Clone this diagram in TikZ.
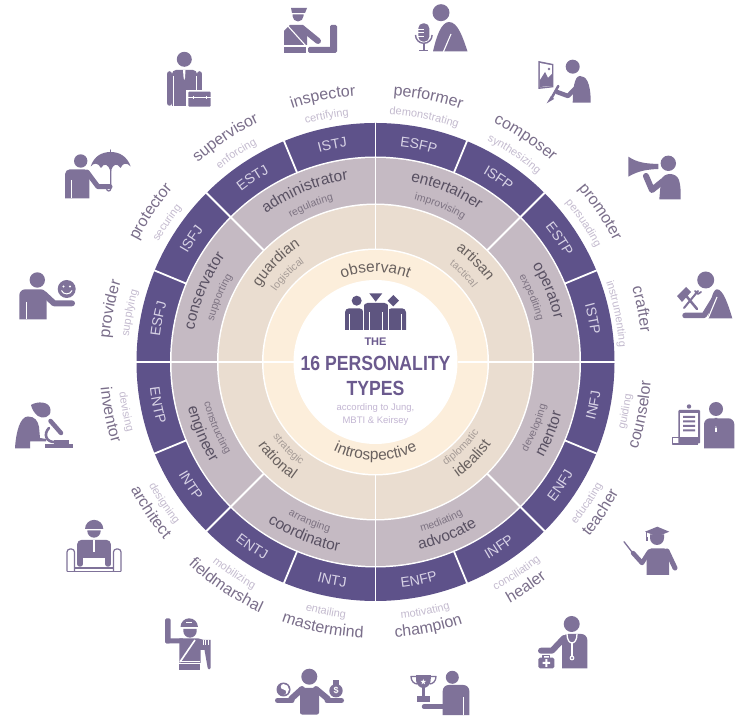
\documentclass[tikz,border=0pt]{standalone}
\usepackage{fontspec}
\setmainfont{Liberation Sans}
\newfontfamily\condf[FakeStretch=0.86]{Liberation Sans}
\usetikzlibrary{decorations.text}
\definecolor{ringP}{RGB}{94,82,138}
\definecolor{ringG}{RGB}{197,186,195}
\definecolor{ringB}{RGB}{234,221,208}
\definecolor{ringC}{RGB}{252,238,219}
\definecolor{ico}{RGB}{127,114,153}
\definecolor{icoD}{RGB}{94,85,128}
\definecolor{lab}{RGB}{122,110,138}
\definecolor{subl}{RGB}{196,187,207}
\definecolor{codeT}{RGB}{216,211,230}
\definecolor{grayL}{RGB}{88,80,98}
\definecolor{grayS}{RGB}{125,115,130}
\definecolor{beigeL}{RGB}{105,97,95}
\definecolor{beigeS}{RGB}{165,155,150}
\definecolor{title}{RGB}{107,90,142}
\definecolor{accT}{RGB}{195,182,211}
\tikzset{
  divider/.style={white,line width=1.8pt},
  slit/.style={white,line width=1.1pt},
  limb/.style={ico,line cap=round,line join=round},
  thin outline/.style={ico,line width=1.4pt,line join=round},
}
\newcommand\UpT[5]{\path[decorate,decoration={text along path,text color=#4,text={|\fontsize{#3}{#3}\selectfont|#5},text align=center}] ({#1+50}:#2) arc[start angle={#1+50},end angle={#1-50},radius=#2];}
\newcommand\DnT[5]{\path[decorate,decoration={text along path,text color=#4,text={|\fontsize{#3}{#3}\selectfont|#5},text align=center}] ({#1-50}:#2) arc[start angle={#1-50},end angle={#1+50},radius=#2];}
\newcommand\Head[3]{\fill (#1,#2) circle (#3);}
\newcommand\Torso[5]{\fill (#1,#4) [rounded corners=#5] -- (#1,#2) -- (#3,#2) [sharp corners] -- (#3,#4) -- cycle;}
\begin{document}
\begin{tikzpicture}[x=1pt,y=1pt]
\useasboundingbox (0,0) rectangle (741,717);
\fill[white] (0,0) rectangle (741,717);
% rings
\begin{scope}[shift={(375.5,355)}]
\fill[ringP] (0,0) circle (239);
\fill[white] (0,0) circle (205.5);
\fill[ringG] (0,0) circle (204);
\fill[white] (0,0) circle (158.5);
\fill[ringB] (0,0) circle (157);
\fill[white] (0,0) circle (113.5);
\fill[ringC] (0,0) circle (112);
\fill[white] (0,0) circle (82);
\foreach \a in {0,22.5,...,337.5} \draw[divider] (\a:204.5) -- (\a:239.5);
\foreach \a in {0,45,...,315} \draw[divider] (\a:158) -- (\a:205);
\foreach \a in {0,90,180,270} \draw[divider] (\a:112.5) -- (\a:158);
\foreach \a in {0,180} \draw[divider] (\a:82) -- (\a:113);
% outer codes
\UpT{101.25}{217}{14}{codeT}{ISTJ}
\UpT{78.75}{217}{14}{codeT}{ESFP}
\UpT{56.25}{217}{14}{codeT}{ISFP}
\UpT{33.75}{217}{14}{codeT}{ESTP}
\UpT{11.25}{217}{14}{codeT}{ISTP}
\UpT{123.75}{217}{14}{codeT}{ESTJ}
\UpT{146.25}{217}{14}{codeT}{ISFJ}
\UpT{168.75}{217}{14}{codeT}{ESFJ}
\DnT{-11.25}{227}{14}{codeT}{INFJ}
\DnT{-33.75}{227}{14}{codeT}{ENFJ}
\DnT{-56.25}{227}{14}{codeT}{INFP}
\DnT{-78.75}{227}{14}{codeT}{ENFP}
\DnT{-101.25}{227}{14}{codeT}{INTJ}
\DnT{-123.75}{227}{14}{codeT}{ENTJ}
\DnT{-146.25}{227}{14}{codeT}{INTP}
\DnT{-168.75}{227}{14}{codeT}{ENTP}
% roles
\UpT{101.25}{267}{16}{lab}{inspector}\UpT{101.25}{248}{11}{subl}{certifying}
\UpT{78.75}{267}{16}{lab}{performer}\UpT{78.75}{248}{11}{subl}{demonstrating}
\UpT{56.25}{267}{16}{lab}{composer}\UpT{56.25}{248}{11}{subl}{synthesizing}
\UpT{33.75}{267}{16}{lab}{promoter}\UpT{33.75}{248}{11}{subl}{persuading}
\UpT{11.25}{267}{16}{lab}{crafter}\UpT{11.25}{244}{11}{subl}{instrumenting}
\UpT{123.75}{267}{16}{lab}{supervisor}\UpT{123.75}{248}{11}{subl}{enforcing}
\UpT{146.25}{267}{16}{lab}{protector}\UpT{146.25}{248}{11}{subl}{securing}
\UpT{168.75}{267}{16}{lab}{provider}\UpT{168.75}{248}{11}{subl}{supplying}
\DnT{-11.25}{276}{16}{lab}{counselor}\DnT{-11.25}{258}{11}{subl}{guiding}
\DnT{-33.75}{276}{16}{lab}{teacher}\DnT{-33.75}{258}{11}{subl}{educating}
\DnT{-56.25}{276}{16}{lab}{healer}\DnT{-56.25}{258}{11}{subl}{conciliating}
\DnT{-78.75}{276}{16}{lab}{champion}\DnT{-78.75}{258}{11}{subl}{motivating}
\DnT{-101.25}{276}{16}{lab}{mastermind}\DnT{-101.25}{258}{11}{subl}{entailing}
\DnT{-123.75}{276}{16}{lab}{fieldmarshal}\DnT{-123.75}{258}{11}{subl}{mobilizing}
\DnT{-146.25}{276}{16}{lab}{architect}\DnT{-146.25}{258}{11}{subl}{designing}
\DnT{-168.75}{276}{16}{lab}{inventor}\DnT{-168.75}{258}{11}{subl}{devising}
% gray ring
\UpT{112.5}{184}{15.5}{grayL}{administrator}\UpT{112.5}{167}{10.5}{grayS}{regulating}
\UpT{67.5}{184}{15.5}{grayL}{entertainer}\UpT{67.5}{167}{10.5}{grayS}{improvising}
\UpT{22.5}{184}{15.5}{grayL}{operator}\UpT{22.5}{167}{10.5}{grayS}{expediting}
\UpT{157.5}{184}{15.5}{grayL}{conservator}\UpT{157.5}{167}{10.5}{grayS}{supporting}
\DnT{-22.5}{193}{15.5}{grayL}{mentor}\DnT{-22.5}{176}{10.5}{grayS}{developing}
\DnT{-67.5}{193}{15.5}{grayL}{advocate}\DnT{-67.5}{176}{10.5}{grayS}{mediating}
\DnT{-112.5}{193}{15.5}{grayL}{coordinator}\DnT{-112.5}{176}{10.5}{grayS}{arranging}
\DnT{-157.5}{193}{15.5}{grayL}{engineer}\DnT{-157.5}{176}{10.5}{grayS}{constructing}
% beige ring
\UpT{135}{138}{15}{beigeL}{guardian}\UpT{135}{122}{10.5}{beigeS}{logistical}
\UpT{45}{138}{15}{beigeL}{artisan}\UpT{45}{122}{10.5}{beigeS}{tactical}
\DnT{-135}{144}{15}{beigeL}{rational}\DnT{-135}{127}{10.5}{beigeS}{strategic}
\DnT{-45}{142}{15}{beigeL}{idealist}\DnT{-45}{125}{10.5}{beigeS}{diplomatic}
% cream ring
\UpT{90}{90}{15.5}{beigeL}{observant}
\DnT{-90}{98}{15.5}{beigeL}{introspective}
\end{scope}
% centre text
\begin{scope}[shift={(0,717)},yscale=-1]
\node[text=title,font=\bfseries\fontsize{11}{11}\selectfont] (tThe) at (375.5,342) {THE};
\node[text=title,font=\condf\bfseries\fontsize{20.5}{20.5}\selectfont] (tSixteen) at (375.5,363) {16 PERSONALITY};
\node[text=title,font=\condf\bfseries\fontsize{20.5}{20.5}\selectfont] (tTypes) at (375.5,388) {TYPES};
\node[text=accT,font=\fontsize{9.5}{9.5}\selectfont] (tAcc) at (375.5,408.5) {according to Jung,};
\node[text=accT,font=\fontsize{9.5}{9.5}\selectfont] (tMbti) at (375.5,421.5) {MBTI \& Keirsey};
% centre icon
\begin{scope}[icoD]
\fill[icoD] (356.7,300.7) circle (5);
\fill[icoD] (369.3,293.3)--(382.3,293.3)--(375.7,301.7)--cycle;
\fill[icoD] (393.3,295)--(399,300.7)--(393.3,306.4)--(387.6,300.7)--cycle;
\Torso{345}{308.3}{363.3}{330}{4}
\Torso{387.5}{308.3}{406}{330}{4}
\Torso{363.5}{303}{388.5}{330}{4}
\draw[white,line width=1pt] (363.4,304)--(363.4,330) (388.4,304)--(388.4,330);
\draw[white,line width=1pt] (349.5,314)--(349.5,330) (369,312)--(369,330) (382.5,312)--(382.5,330) (401.5,314)--(401.5,330);
\end{scope}
% ---------- icons ----------
\begin{scope}[ico]
\tikzset{every path/.append style={ico}}
% inspector
\fill (291,8)--(307,8)--(305,13)--(292,13)--cycle;
\fill (292.5,14.5)--(303.5,14.5)--(303.5,16) arc[start angle=0,end angle=180,radius=5.5]--cycle;
\fill (284,45)--(284,31)--(290,25)--(303,25)--(307,30)--(307,45)--cycle;
\draw[limb,line width=6pt] (302,28)--(318,41);
\draw[slit] (287,25)--(306,46);
\fill (284,47) rectangle (306,53);
\fill[rounded corners=1.5] (330,25) rectangle (337,50);
\fill[rounded corners=1.5] (308,47) rectangle (337,53);
% performer
\Head{441}{12.7}{8.5}
\fill (433,51.5) .. controls (436,38) and (441,22) .. (449,22) .. controls (458,22) and (463,38) .. (467.5,51.5) -- cycle;
\draw[slit] (443.3,52)--(451,34);
\fill[rounded corners=5] (418.3,23.3) rectangle (429.3,41.7);
\draw[white,line width=.8pt] (418,29)--(424,29) (418,32.5)--(424,32.5) (418,36)--(424,36);
\draw[thin outline] (415.5,35) arc[start angle=180,end angle=0,radius=8.3];
\draw[thin outline] (423.8,43.3)--(423.8,50.7) (419,50.7)--(428.3,50.7);
% composer
\Head{572.7}{66.7}{7}
\fill (572.7,102.7) .. controls (573,90) and (574,76) .. (580,76) .. controls (586,76) and (590.7,82) .. (590.7,102.7) -- cycle;
\draw[limb,line width=4.5pt] (576.7,87)--(568,96)--(557,92);
\draw[limb,line width=2.5pt] (558.3,86)--(551,99);
\fill (551,96)--(554,99)--(546.7,103.3)--cycle;
\fill (538.3,61)--(553.3,64)--(553.3,87.3)--(538.3,89)--cycle;
\fill[white] (539.8,63)--(551.8,65.3)--(551.8,86)--(539.8,87.3)--cycle;
\fill (540,87)--(540,80)--(545,72)--(548,78)--(551.8,74)--(551.8,85.8)--cycle;
\fill (549,69) circle (1.3);
% promoter
\Head{668.3}{163.3}{7.7}
\fill (659.3,199.3)--(661,180) .. controls (664,172) and (676,172) .. (679,180) .. controls (681,187) and (680.7,193) .. (680.7,199.3) -- cycle;
\draw[limb,line width=6pt] (663,181)--(652,190)--(646,176);
\fill (628.3,156.7) .. controls (638,163) and (646,163.5) .. (658.3,164) -- (658.3,169) .. controls (646,169.5) and (638,171) .. (628.3,176.7) -- cycle;
% crafter
\Head{705.7}{280}{8.5}
\fill (708,318.3) .. controls (710,305) and (712,289.3) .. (717,289.3) .. controls (723,289.3) and (728,304) .. (732.3,318.3) -- cycle;
\draw[limb,line width=5.5pt] (716,296)--(704,315.5)--(685,315.5);
\draw[slit] (717,297)--(708,318.5);
\draw[limb,line width=2.5pt] (683,292)--(697,309);
\fill (677,296)--(686,287)--(691,292)--(682,302)--cycle;
\draw[limb,line width=2pt] (698,291)--(684,308);
\draw[limb,line width=1.8pt] (695,291)--(698,294)--(701,292);
% counselor
\Head{716}{409}{7}
\Torso{704}{418.3}{734.3}{448.3}{6}
\draw[slit] (716,418)--(716,432);
\fill (714.6,418)--(717.4,418)--(716.6,428)--(715.4,428)--cycle;
\fill[rounded corners=1] (678.3,410) rectangle (700,443.5);
\fill (689,406.5) circle (2.2);
\fill[white] (680,413) rectangle (698,437);
\fill (683,416) rectangle (695,418) (683,420.5) rectangle (695,422.5) (683,425) rectangle (695,427) (683,429.5) rectangle (695,431.5);
\draw[thin outline,rounded corners=3] (698,444) -- (675.5,444) .. controls (672.5,444) and (672.5,437.5) .. (675.5,437.5) -- (697,437.5);
% teacher
\fill (645,531.7)--(657.3,526.7)--(669.3,531.7)--(657.3,536.5)--cycle;
\draw[limb,line width=1pt] (646.7,531.7)--(646.7,537);
\fill (645.5,537) rectangle (648,541.5);
\fill (650,534.5) -- (664,534.5) -- (664,538) arc[start angle=0,end angle=180,radius=7] -- cycle;
\Torso{646.7}{548.3}{669}{575}{5}
\draw[limb,line width=5pt] (667,551)--(675,568);
\draw[limb,line width=4.5pt] (649,552)--(642,563)--(633,553);
\draw[limb,line width=1.3pt] (632,552)--(624,541.7);
% healer
\Head{571.7}{624}{8}
\Torso{562}{634}{587.3}{668.3}{6}
\draw[limb,line width=6pt] (564,638)--(552,650.7)--(541,650.7);
\draw[white,line width=1.3pt] (567,634) .. controls (567,646) and (577,646) .. (577,634);
\draw[white,line width=1.3pt] (572,643)--(572,656);
\fill[white] (572,658) circle (2.4);
\fill (572,658) circle (1.2);
\fill[rounded corners=1.5] (538.3,657.7) rectangle (554.3,668.3);
\draw[thin outline,line width=1.1pt] (543,657.7)--(543,655.5)--(549.5,655.5)--(549.5,657.7);
\fill[white] (545.3,659.2) rectangle (547.3,666.8) (542.5,662) rectangle (550,664);
% champion
\Head{452.3}{677.3}{6.5}
\Torso{442.7}{685}{469.3}{715}{6}
\draw[slit] (463.5,697)--(463.5,715);
\draw[limb,line width=4.5pt] (444,706.7)--(424,706.7);
\fill (416,675) rectangle (430.7,679);
\fill (416,679) .. controls (416,686) and (421,688) .. (423.3,688) .. controls (426,688) and (430.7,686) .. (430.7,679) -- cycle;
\draw[thin outline,line width=1.3pt] (416,676.5)--(411,676.5) .. controls (411,681) and (414,684) .. (417.5,684);
\draw[thin outline,line width=1.3pt] (431,676.5)--(436,676.5) .. controls (436,681) and (433,684) .. (429.5,684);
\fill (422,687) rectangle (424.7,696);
\fill (416.7,696.5)--(430,696.5)--(430,701.7)--(416.7,701.7)--cycle;
\fill[white] (423.3,679) -- (424,681) -- (426,681) -- (424.4,682.3) -- (425,684.3) -- (423.3,683.1) -- (421.6,684.3) -- (422.2,682.3) -- (420.6,681) -- (422.6,681) -- cycle;
% mastermind
\Head{309.3}{676.7}{8}
\fill[rounded corners=2] (300,688) rectangle (319,714.5);
\draw[limb,line width=6pt] (302,689)--(291,699);
\draw[limb,line width=6pt] (316,689)--(328,699);
\draw[limb,line width=5pt] (277.5,700.5)--(292,700.5);
\draw[limb,line width=5pt] (327,700.5)--(341.5,700.5);
\fill (283.5,689.5) circle (7);
\fill[white] (283.5,684) arc[start angle=-90,end angle=90,radius=5.5] arc[start angle=90,end angle=-90,radius=2.75] arc[start angle=90,end angle=270,radius=2.75] -- cycle;
\fill (336,690.7) circle (6.7);
\fill (332.5,680) rectangle (338.5,685);
\node[text=white,font=\bfseries\fontsize{9}{9}\selectfont,inner sep=0pt] (dollar) at (336,690.7) {\$};
% fieldmarshal
\fill (180.5,627) arc[start angle=180,end angle=360,radius=8.7] -- cycle;
\fill (183.3,629) -- (196.7,629) -- (196.7,631) arc[start angle=0,end angle=180,radius=6.7] -- cycle;
\draw[slit] (186,622.5)--(192,622.5);
\fill[rounded corners=1.5] (165,618.3) rectangle (170.7,643.3);
\fill[rounded corners=1.5] (165,638.5) rectangle (184,643.5);
\fill (179.3,638.3)--(198,638.3)--(204,640)--(210.7,640)--(210.7,668) arc[start angle=0,end angle=180,radius=1.5] -- (204.5,650) -- (200.5,650) -- (200.5,663) -- (179.3,663)-- cycle;
\fill (179.3,664.5) rectangle (200,670);
\draw[white,line width=1.6pt] (180,662)--(195,640);
\draw[white,line width=1.3pt] (180,661.7)--(200,661.7);
\draw[white,line width=.7pt] (203,640)--(203,645.5) (205.5,640)--(205.5,645.5) (208,640)--(208,645.5);
% architect
\fill (85,529) arc[start angle=180,end angle=360,radius=9.15] -- cycle;
\fill (87.3,530.5) -- (100.7,530.5) -- (100.7,531) arc[start angle=0,end angle=180,radius=6.7] -- cycle;
\fill[rounded corners=4] (77.3,540) rectangle (110.7,558);
\fill (83,556) rectangle (105,558);
\draw[limb,line width=5.5pt] (80,545)--(80,564);
\draw[limb,line width=5.5pt] (108,545)--(108,564);
\draw[slit] (94,540)--(94,552);
\draw[thin outline,line width=1.2pt,rounded corners=3] (67,571.5) -- (67,549) -- (74.5,549) -- (74.5,571);
\draw[thin outline,line width=1.2pt,rounded corners=3] (121,571.5) -- (121,549) -- (113.5,549) -- (113.5,571);
\draw[thin outline,line width=1.2pt,rounded corners=1.5] (67,571.5) -- (121,571.5);
\draw[thin outline,line width=1.2pt] (74.5,568)--(113.5,568);
% inventor
\fill (31,405) .. controls (37,401) and (50,401) .. (50.5,410) .. controls (51,418) and (42,419) .. (38,416) .. controls (34,413) and (32,409) .. (31,405) -- cycle;
\fill (15,448.3) .. controls (16,432) and (20,416.5) .. (28,416.5) .. controls (35,416.5) and (38,421) .. (39,427) -- (40,438) -- (46,439) -- (46,441.5) -- (30,441.5) -- (30,448.3) -- cycle;
\draw[limb,line width=2.6pt] (49,428) .. controls (43,434) and (46,443) .. (56,442);
\draw[limb,line width=4.5pt] (50.5,421)--(61,433);
\fill (45,444.5) rectangle (73.3,448.3);
\fill (54,439.8) rectangle (68.5,444.5);
% provider
\Head{37.3}{280}{7.7}
\Torso{19.3}{289.3}{46.7}{319.3}{6}
\draw[slit] (26.7,302)--(26.7,319.3);
\draw[limb,line width=6pt] (44,294)--(54,303.3)--(72,303.3);
\fill (66.7,289) circle (9);
\fill[white] (63.5,286.5) circle (1.2) (70,286.5) circle (1.2);
\draw[white,line width=1pt] (61.5,290.5) .. controls (63,295) and (70.5,295) .. (72,290.5);
% protector
\Head{80.7}{161}{6.7}
\Torso{65}{169.3}{89.3}{198.3}{5}
\draw[slit] (71.7,180)--(71.7,198.3);
\draw[limb,line width=5pt] (87,172)--(98,186.7)--(110,186.7);
\fill (90.7,166.5) .. controls (94,156) and (102,152) .. (110.7,152) .. controls (119,152) and (127,156) .. (130.7,166.5) .. controls (127,162.5) and (123,162.5) .. (120.5,168) .. controls (117,163) and (113,163) .. (110.7,172) .. controls (108,163) and (104,163) .. (101,168) .. controls (98,162.5) and (94,162.5) .. (90.7,166.5) -- cycle;
\draw[limb,line width=1.2pt] (110.7,150)--(110.7,152);
\draw[limb,line width=1.2pt] (110.7,170)--(110.7,189) arc[start angle=0,end angle=180,radius=2];
% supervisor
\Head{184.3}{59.3}{7.5}
\Torso{172}{70}{197}{106}{4}
\draw[limb,line width=5.5pt] (169.5,74)--(169.5,103);
\draw[limb,line width=5.5pt] (199.5,74)--(199.5,92);
\draw[white,line width=1pt] (173,76)--(173,106) (196,76)--(196,90);
\fill[white] (185.5,70)--(183,70)--(183.6,78)--(184.3,80)--(185,78)--cycle;
\fill[white] (185.5,90) rectangle (212,108);
\fill[rounded corners=1] (188.3,91.7) rectangle (210.7,106.7);
\draw[white,line width=.8pt] (188,97)--(211,97) (193,96)--(193,99) (206,96)--(206,99);
\end{scope}
\end{scope}
\end{tikzpicture}
\end{document}
